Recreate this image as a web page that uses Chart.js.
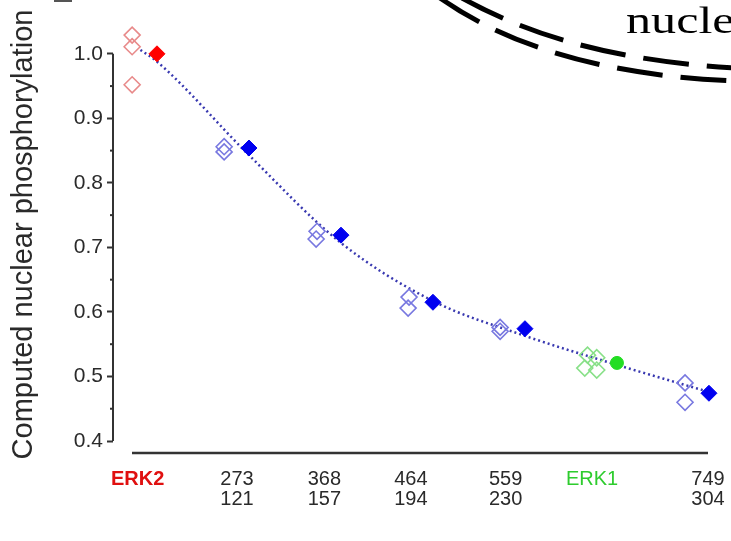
<!DOCTYPE html>
<html>
<head>
<meta charset="utf-8">
<script src="https://cdn.jsdelivr.net/npm/chart.js@4.4.0/dist/chart.umd.min.js"></script>
<style>
  html, body { margin: 0; padding: 0; background: #fff; }
  #wrap { width: 731px; height: 541px; }
</style>
</head>
<body>
<div id="wrap"><canvas id="grafico"></canvas></div>
<script>
// categorias del eje x (linea superior / inferior)
var categorias = [['ERK2'], ['273', '121'], ['368', '157'], ['464', '194'], ['559', '230'], ['ERK1'], ['749', '304']];
var posEtiquetas = [-0.21, 0.87, 1.82, 2.76, 3.79, 4.73, 5.99];
var grupo = ['erk2', 'mut', 'mut', 'mut', 'mut', 'erk1', 'mut'];

// valor medio (rombos llenos)
var promedio = [1.0, 0.854, 0.719, 0.615, 0.574, 0.521, 0.474];

// replicas (rombos vacios)
var replicaCat = [0, 0, 0, 1, 1, 2, 2, 3, 3, 4, 4, 5, 5, 5, 5, 6, 6];
var replicaVal = [1.029, 1.011, 0.952, 0.856, 0.848, 0.725, 0.713, 0.623, 0.606, 0.576, 0.570, 0.533, 0.529, 0.513, 0.510, 0.490, 0.460];
var replicaDx = [-0.27, -0.27, -0.27, -0.27, -0.27, -0.26, -0.27, -0.26, -0.27, -0.27, -0.27, -0.32, -0.22, -0.35, -0.22, -0.26, -0.26];

// curva de ajuste (punteada)
var ajusteX = [-0.18, 0, 1, 2, 3, 4, 5, 6];
var ajusteY = [1.006, 0.988, 0.843, 0.707, 0.617, 0.563, 0.518, 0.476];

// ticks del eje y
var ticksY = [0.4, 0.5, 0.6, 0.7, 0.8, 0.9, 1.0];

var colorLleno = { erk2: '#ff0000', mut: '#0000f0', erk1: '#22dd22' };
var colorVacio = { erk2: '#e88a8a', mut: '#7878e0', erk1: '#88e088' };
var colorTexto = { erk2: '#e01010', mut: '#2a2a2a', erk1: '#2ecc2e' };

var decoracion = {
  id: 'decoracion',
  afterDraw: function(chart) {
    var ctx = chart.ctx;
    var area = chart.chartArea;
    var y = chart.scales.y;
    var yTop = y.getPixelForValue(1.0);
    var yBot = y.getPixelForValue(0.4);
    ctx.save();
    ctx.strokeStyle = '#333';
    // eje y (solo de 0.4 a 1.0)
    ctx.lineWidth = 2;
    ctx.beginPath();
    ctx.moveTo(area.left, yTop);
    ctx.lineTo(area.left, yBot);
    ctx.stroke();
    // eje x separado
    ctx.lineWidth = 2.5;
    ctx.beginPath();
    ctx.moveTo(area.left + 19, yBot + 12);
    ctx.lineTo(area.right - 12, yBot + 12);
    ctx.stroke();
    // ticks menores
    ctx.lineWidth = 2;
    for (var v = 0.45; v < 1.0; v += 0.1) {
      var py = y.getPixelForValue(v);
      ctx.beginPath();
      ctx.moveTo(area.left - 3, py);
      ctx.lineTo(area.left, py);
      ctx.stroke();
    }
    // fragmento de la figura vecina (arriba a la derecha)
    ctx.strokeStyle = '#000';
    ctx.lineWidth = 5;
    ctx.setLineDash([46, 18]);
    ctx.beginPath();
    ctx.moveTo(462, -2);
    ctx.bezierCurveTo(520, 30, 600, 60, 735, 68);
    ctx.stroke();
    ctx.beginPath();
    ctx.moveTo(440, -2);
    ctx.bezierCurveTo(500, 40, 590, 75, 735, 81);
    ctx.stroke();
    ctx.setLineDash([]);
    ctx.fillStyle = '#000';
    ctx.font = '38px "Liberation Serif", "DejaVu Serif", serif';
    ctx.textBaseline = 'alphabetic';
    ctx.translate(626, 33);
    ctx.scale(1.32, 1);
    ctx.fillText('nucleus', 0, 0);
    ctx.setTransform(1, 0, 0, 1, 0, 0);
    ctx.strokeStyle = '#555';
    ctx.lineWidth = 2;
    ctx.beginPath();
    ctx.moveTo(54, 1);
    ctx.lineTo(72, 1);
    ctx.stroke();
    ctx.restore();
  }
};

var puntosLlenos = promedio.map(function(v, i) { return { x: i, y: v }; });
var puntosVacios = replicaVal.map(function(v, i) { return { x: replicaCat[i] + replicaDx[i], y: v }; });
var puntosAjuste = ajusteY.map(function(v, i) { return { x: ajusteX[i], y: v }; });

new Chart(document.getElementById('grafico'), {
  type: 'scatter',
  data: {
    datasets: [
      {
        label: 'media',
        data: puntosLlenos,
        pointStyle: grupo.map(function(g) { return g === 'erk1' ? 'circle' : 'rectRot'; }),
        pointRadius: grupo.map(function(g) { return g === 'erk1' ? 6.5 : 8; }),
        pointBackgroundColor: grupo.map(function(g) { return colorLleno[g]; }),
        pointBorderColor: grupo.map(function(g) { return colorLleno[g]; }),
        pointBorderWidth: 1,
        clip: false
      },
      {
        label: 'replicas',
        data: puntosVacios,
        pointStyle: 'rectRot',
        pointRadius: 8,
        pointBackgroundColor: 'rgba(255,255,255,0)',
        pointBorderColor: replicaCat.map(function(c) { return colorVacio[grupo[c]]; }),
        pointBorderWidth: 1.6,
        clip: false
      },
      {
        label: 'ajuste',
        type: 'line',
        data: puntosAjuste,
        borderColor: '#3838b0',
        borderWidth: 2.5,
        borderDash: [2, 3],
        pointRadius: 0,
        cubicInterpolationMode: 'monotone',
        fill: false,
        clip: false
      }
    ]
  },
  options: {
    responsive: true,
    maintainAspectRatio: false,
    animation: false,
    layout: { padding: { top: 28, right: 11, left: 0, bottom: 0 } },
    plugins: {
      legend: { display: false },
      tooltip: { enabled: false }
    },
    scales: {
      x: {
        type: 'linear',
        min: -0.478,
        max: 6.12,
        grid: { display: false, drawTicks: false },
        border: { display: false },
        afterBuildTicks: function(scale) {
          scale.ticks = posEtiquetas.map(function(p) { return { value: p }; });
        },
        afterFit: function(scale) {
          scale.height = 100;
          scale.paddingLeft = 0;
          scale.paddingRight = 0;
        },
        ticks: {
          autoSkip: false,
          maxRotation: 0,
          padding: 28,
          callback: function(value, index) { return categorias[index]; },
          color: function(c) { return colorTexto[grupo[c.index]] || '#333'; },
          font: function(c) {
            var g = grupo[c.index];
            return { family: 'Arial, "Liberation Sans", sans-serif', size: 20, weight: g === 'erk2' ? 'bold' : 'normal', lineHeight: 1.0 };
          }
        }
      },
      y: {
        min: 0.4,
        max: 1.04,
        afterBuildTicks: function(scale) {
          scale.ticks = ticksY.map(function(v) { return { value: v }; });
        },
        afterFit: function(scale) {
          scale.width = 113;
          scale.paddingTop = 0;
          scale.paddingBottom = 0;
        },
        grid: { drawOnChartArea: false, tickLength: 6, tickColor: '#333', tickWidth: 2 },
        border: { display: false },
        ticks: {
          padding: 4,
          color: '#2a2a2a',
          font: { family: 'Arial, "Liberation Sans", sans-serif', size: 21 },
          callback: function(v) { return v.toFixed(1); }
        },
        title: {
          display: true,
          text: 'Computed nuclear phosphorylation',
          color: '#2a2a2a',
          font: { family: 'Arial, "Liberation Sans", sans-serif', size: 29 },
          padding: { top: 7, bottom: 0 }
        }
      }
    }
  },
  plugins: [decoracion]
});
</script>
</body>
</html>
